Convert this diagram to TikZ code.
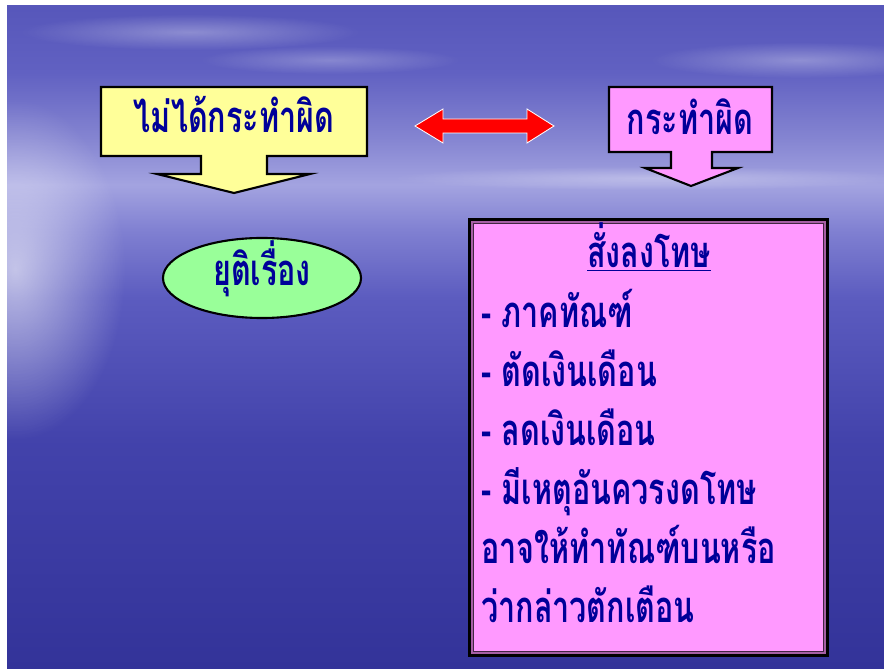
\documentclass[tikz,border=0pt]{standalone}
\usepackage{fontspec}
\usepackage{tikz}
\usetikzlibrary{positioning, shapes.geometric, fadings}
\newfontfamily\thaifont[Script=Thai, FakeStretch=0.7]{Loma}
\definecolor{slideyellow}{RGB}{255, 255, 153}
\definecolor{slidepink}{RGB}{255, 153, 255}
\definecolor{slidegreen}{RGB}{153, 255, 153}
\definecolor{slidenavy}{RGB}{0, 0, 153}
\definecolor{slidemauve}{RGB}{165, 95, 165}
\pgfdeclareverticalshading{seasky}{100bp}{
  rgb(0bp)=(0.20,0.20,0.60); rgb(25bp)=(0.20,0.20,0.60);
  rgb(42bp)=(0.26,0.26,0.67); rgb(53bp)=(0.36,0.36,0.75);
  rgb(58bp)=(0.50,0.50,0.82); rgb(61.5bp)=(0.64,0.64,0.88);
  rgb(65bp)=(0.52,0.52,0.82); rgb(70bp)=(0.38,0.38,0.76);
  rgb(75bp)=(0.34,0.34,0.73); rgb(100bp)=(0.34,0.34,0.73)}
\tikzfading[name=glowfade, inner color=transparent!0, outer color=transparent!100]

\begin{document}
\begin{tikzpicture}[x=0.025cm, y=-0.025cm,
    every node/.style={font=\thaifont\bfseries\fontsize{31}{37}\selectfont, text=slidenavy},
    callout/.style={draw=black, line width=1.5pt, line join=miter},
    listline/.style={anchor=base west, inner sep=0pt}]
    \useasboundingbox (0,0) rectangle (884,669);
    \shade[shading=seasky] (7,6) rectangle (884,669);
    \begin{scope}
      \clip (7,6) rectangle (884,669);
      \fill[white, opacity=0.6, path fading=glowfade] (15,270) ellipse [x radius=110, y radius=170];
      \fill[white, opacity=0.3, path fading=glowfade] (190,32) ellipse [x radius=170, y radius=18];
      \fill[white, opacity=0.25, path fading=glowfade] (330,60) ellipse [x radius=130, y radius=14];
      \fill[white, opacity=0.3, path fading=glowfade] (800,60) ellipse [x radius=150, y radius=18];
      \fill[white, opacity=0.3, path fading=glowfade] (650,178) ellipse [x radius=260, y radius=12];
    \end{scope}

    \draw[callout, fill=slideyellow] (101,87) -- (367,87) -- (367,156) -- (267,156) -- (267,174) -- (310,174)
      -- (234,193) -- (157,174) -- (201,174) -- (201,156) -- (101,156) -- cycle;
    \node[anchor=base] (notguilty) at (234,133) {ไม่ได้กระทำผิด};

    \draw[callout, fill=slidepink] (609,87) -- (772,87) -- (772,152) -- (712,152) -- (712,168) -- (738,168)
      -- (691,186) -- (645,168) -- (671,168) -- (671,152) -- (609,152) -- cycle;
    \node[anchor=base] (guilty) at (690,135) {กระทำผิด};

    \draw[white, fill=red, line width=0.6pt] (415,126) -- (443,109) -- (443,119) -- (527,119) -- (527,109)
      -- (554,126) -- (527,143) -- (527,133) -- (443,133) -- (443,143) -- cycle;

    \node[ellipse, draw=black, line width=1.5pt, fill=slidegreen, minimum width=4.95cm, minimum height=2cm,
      inner sep=0pt, text height=14pt, text depth=4pt] (endcase) at (262,278) {ยุติเรื่อง};

    \node[draw=black, line width=3pt, fill=slidepink, minimum width=8.925cm, minimum height=10.875cm,
      inner sep=0pt] (penalty) at (648.5,437.5) {};
    \draw[slidemauve, line width=1.6pt] ([shift={(4,4)}]penalty.north west) rectangle ([shift={(-4,-4)}]penalty.south east);
    \draw[black!60!slidemauve, line width=0.5pt] ([shift={(6,6)}]penalty.north west) rectangle ([shift={(-6,-6)}]penalty.south east);

    \node[anchor=base] (penaltytitle) at (649,268) {\underline{สั่งลงโทษ}};
    \foreach \txt [count=\i] in {- ภาคทัณฑ์, - ตัดเงินเดือน, - ลดเงินเดือน, - มีเหตุอันควรงดโทษ, อาจให้ทำทัณฑ์บนหรือ, ว่ากล่าวตักเตือน}
      \node[listline] (item\i) at (481,{328+59*(\i-1)}) {\txt};
  \end{tikzpicture}
\end{document}
